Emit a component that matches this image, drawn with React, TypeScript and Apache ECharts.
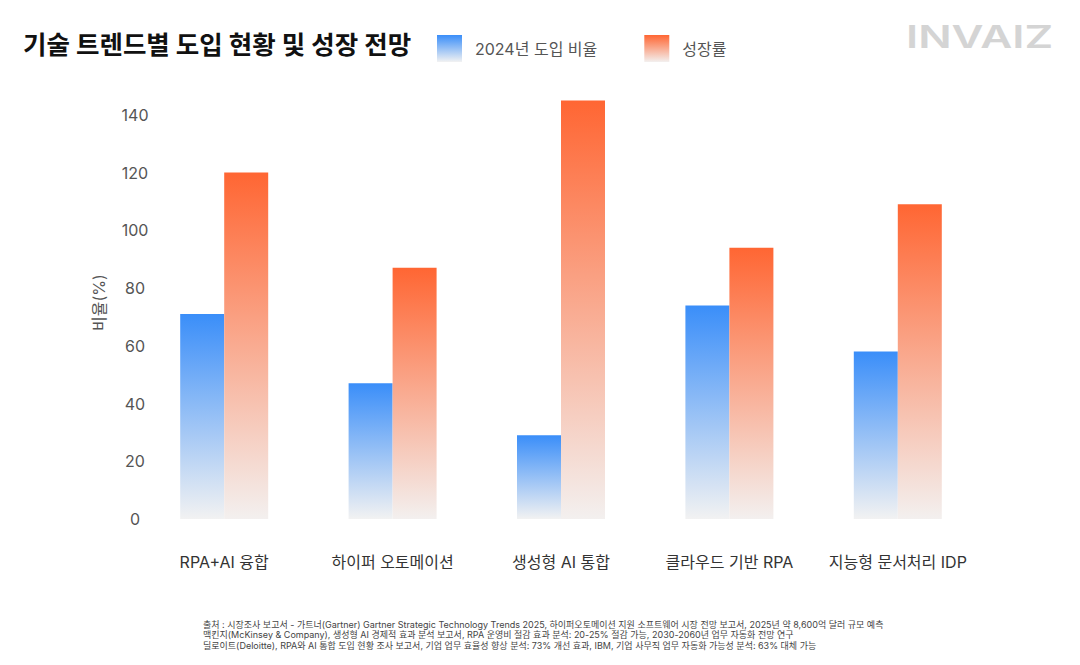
import { useRef, useEffect } from "react";
import * as echarts from "echarts";

const categories = [
  "RPA+AI 융합",
  "하이퍼 오토메이션",
  "생성형 AI 통합",
  "클라우드 기반 RPA",
  "지능형 문서처리 IDP",
];
const adoption2024 = [71, 47, 29, 74, 58];
const growthRate = [120, 87, 145, 94, 109];
const yTicks = [0, 20, 40, 60, 80, 100, 120, 140];
const sourceLines = [
  "출처 : 시장조사 보고서 - 가트너(Gartner) Gartner Strategic Technology Trends 2025, 하이퍼오토메이션 지원 소프트웨어 시장 전망 보고서, 2025년 약 8,600억 달러 규모 예측",
  "맥킨지(McKinsey & Company), 생성형 AI 경제적 효과 분석 보고서, RPA 운영비 절감 효과 분석: 20-25% 절감 가능, 2030-2060년 업무 자동화 전망 연구",
  "딜로이트(Deloitte), RPA와 AI 통합 도입 현황 조사 보고서, 기업 업무 효율성 향상 분석: 73% 개선 효과, IBM, 기업 사무직 업무 자동화 가능성 분석: 63% 대체 가능",
];

const FONT = "Inter, 'Noto Sans CJK KR', sans-serif";

const blueFill = () =>
  new echarts.graphic.LinearGradient(0, 0, 0, 1, [
    { offset: 0, color: "#3a8ef9" },
    { offset: 1, color: "#f2f2f2" },
  ]);
const orangeFill = () =>
  new echarts.graphic.LinearGradient(0, 0, 0, 1, [
    { offset: 0, color: "#ff6633" },
    { offset: 1, color: "#f3f0ef" },
  ]);

const TechTrendChart = () => {
  const chartRef = useRef<HTMLDivElement>(null);

  useEffect(() => {
    if (!chartRef.current) return;
    const chart = echarts.init(chartRef.current, null, { renderer: "svg" });

    const option = {
      animation: false,
      backgroundColor: "#ffffff",
      textStyle: { fontFamily: FONT },
      title: {
        text: "기술 트렌드별 도입 현황 및 성장 전망",
        left: 23,
        top: 32,
        padding: 0,
        textStyle: {
          fontFamily: FONT,
          fontSize: 25.5,
          fontWeight: "bold",
          color: "#111111",
        },
      },
      legend: {
        left: 437,
        top: 35,
        padding: 0,
        itemWidth: 25,
        itemHeight: 27,
        itemGap: 47,
        icon: "rect",
        textStyle: {
          fontFamily: FONT,
          fontSize: 16,
          color: "#555555",
          padding: [0, 0, 0, 8],
        },
        data: ["2024년 도입 비율", "성장률"],
      },
      grid: {
        left: 140,
        right: 98,
        top: 86,
        bottom: 146,
        containLabel: false,
      },
      xAxis: {
        type: "category",
        data: categories,
        axisLine: { show: false },
        axisTick: { show: false },
        axisLabel: {
          interval: 0,
          margin: 35,
          fontFamily: FONT,
          fontSize: 16,
          color: "#333333",
        },
      },
      yAxis: {
        type: "value",
        min: 0,
        max: 150,
        interval: 20,
        name: "비율(%)",
        nameLocation: "middle",
        nameGap: 33,
        nameTextStyle: {
          fontFamily: FONT,
          fontSize: 16,
          color: "#555555",
        },
        axisLine: { show: false },
        axisTick: { show: false },
        splitLine: { show: false },
        axisLabel: {
          margin: 5,
          align: "center",
          fontFamily: FONT,
          fontSize: 16,
          color: "#555555",
          formatter: (v: number) => (yTicks.includes(v) ? String(v) : ""),
        },
      },
      series: [
        {
          name: "2024년 도입 비율",
          type: "bar",
          data: adoption2024,
          barWidth: 44,
          barGap: "0%",
          itemStyle: { color: blueFill() },
        },
        {
          name: "성장률",
          type: "bar",
          data: growthRate,
          barWidth: 44,
          barGap: "0%",
          itemStyle: { color: orangeFill() },
        },
      ],
      graphic: [
        {
          type: "text",
          x: 906,
          y: 21,
          scaleX: 1.42,
          style: {
            text: "INVAIZ",
            fontFamily: "Inter, sans-serif",
            fontSize: 31,
            fontWeight: 600,
            fill: "#d4d4d4",
          },
        },
        {
          type: "text",
          left: 203,
          top: 619,
          style: {
            text: sourceLines.join("\n"),
            fontFamily: FONT,
            fontSize: 9,
            lineHeight: 10.5,
            fill: "#444444",
          },
        },
      ],
    };

    chart.setOption(option);

    const handleResize = () => chart.resize();
    window.addEventListener("resize", handleResize);

    return () => {
      window.removeEventListener("resize", handleResize);
      chart.dispose();
    };
  }, []);

  return (
    <div
      ref={chartRef}
      style={{
        position: "fixed",
        left: 0,
        top: 0,
        width: "1080px",
        height: "665px",
        background: "#ffffff",
      }}
    />
  );
};

export default TechTrendChart;
